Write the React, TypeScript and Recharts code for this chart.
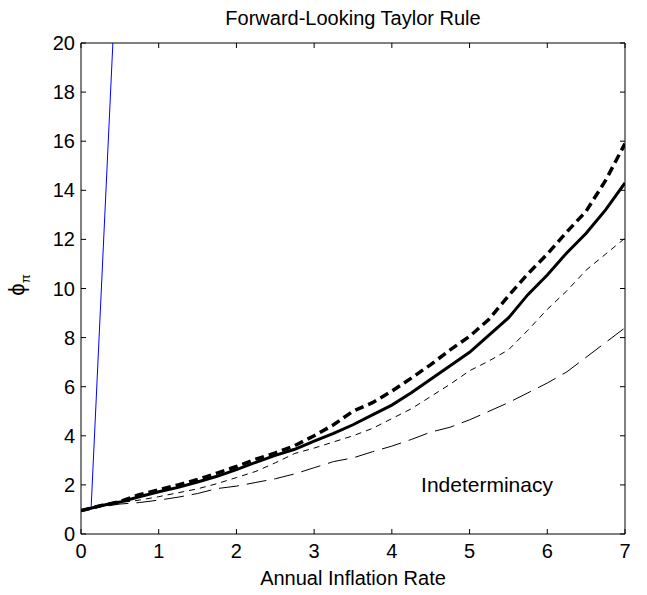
import React from 'react';
import { LineChart, Line, XAxis, YAxis, Label } from 'recharts';

// annual inflation rate grid (x) and the four phi_pi boundaries
const inflation = [0, 0.25, 0.5, 0.75, 1, 1.25, 1.5, 1.75, 2, 2.25, 2.5, 2.75, 3, 3.25, 3.5, 3.75, 4, 4.25, 4.5, 4.75, 5, 5.25, 5.5, 5.75, 6, 6.25, 6.5, 6.75, 7];
const thickSolid = [0.95, 1.15, 1.3, 1.52, 1.72, 1.9, 2.12, 2.35, 2.62, 2.92, 3.2, 3.45, 3.78, 4.1, 4.45, 4.85, 5.25, 5.75, 6.3, 6.85, 7.4, 8.1, 8.8, 9.75, 10.55, 11.45, 12.25, 13.2, 14.3];
const thickDashed = [0.95, 1.15, 1.32, 1.6, 1.8, 2.0, 2.22, 2.48, 2.75, 3.05, 3.3, 3.6, 4.0, 4.45, 5.0, 5.35, 5.82, 6.35, 6.9, 7.5, 8.05, 8.75, 9.7, 10.6, 11.4, 12.3, 13.15, 14.4, 15.9];
const thinDashed = [0.95, 1.12, 1.28, 1.38, 1.52, 1.68, 1.84, 2.05, 2.3, 2.55, 2.9, 3.28, 3.5, 3.75, 4.0, 4.3, 4.7, 5.1, 5.6, 6.1, 6.65, 7.05, 7.5, 8.3, 9.15, 9.9, 10.75, 11.4, 12.05];
const longDashed = [0.95, 1.1, 1.22, 1.28, 1.38, 1.5, 1.65, 1.85, 1.95, 2.1, 2.25, 2.45, 2.7, 2.95, 3.1, 3.35, 3.58, 3.85, 4.15, 4.35, 4.65, 5.0, 5.35, 5.75, 6.15, 6.6, 7.2, 7.8, 8.4];

// steep blue boundary near zero inflation
const boundaryX = [0.13, 0.41];
const boundaryY = [1.05, 20];

const xTicks = [0, 1, 2, 3, 4, 5, 6, 7];
const yTicks = [0, 2, 4, 6, 8, 10, 12, 14, 16, 18, 20];

const toPoints = (xs: number[], ys: number[]) => xs.map((x, i) => ({ x, y: ys[i] }));

const FONT = '"Liberation Sans", Arial, Helvetica, sans-serif';
const FS = 20;

const BottomTick = ({ x, y, payload }: any) => (
  <g>
    <line x1={x} x2={x} y1={y} y2={y - 5} stroke="#000" />
    <text x={x} y={y + 24} textAnchor="middle" fontSize={FS} fontFamily={FONT} fill="#000">
      {payload.value}
    </text>
  </g>
);

const TopTick = ({ x, y }: any) => <line x1={x} x2={x} y1={y} y2={y + 5} stroke="#000" />;

const LeftTick = ({ x, y, payload }: any) => (
  <g>
    <line x1={x} x2={x + 5} y1={y} y2={y} stroke="#000" />
    <text x={x - 6} y={y + 7} textAnchor="end" fontSize={FS} fontFamily={FONT} fill="#000">
      {payload.value}
    </text>
  </g>
);

const RightTick = ({ x, y }: any) => <line x1={x} x2={x - 5} y1={y} y2={y} stroke="#000" />;

export default function App() {
  return (
    <div style={{ position: 'absolute', left: 0, top: 0, background: '#fff', fontFamily: FONT }}>
      <LineChart width={647} height={595} margin={{ top: 42, right: 21, bottom: 0, left: 0 }}>
        <text x={353} y={25} textAnchor="middle" fontSize={FS} fontFamily={FONT} fill="#000">
          Forward-Looking Taylor Rule
        </text>
        <XAxis
          xAxisId="b"
          type="number"
          dataKey="x"
          domain={[0, 7]}
          ticks={xTicks}
          height={61}
          tickSize={0}
          tickMargin={0}
          tick={<BottomTick />}
          axisLine={{ stroke: '#000' }}
          allowDataOverflow
        >
          <Label
            content={() => (
              <text x={353} y={585} textAnchor="middle" fontSize={FS} fontFamily={FONT} fill="#000">
                Annual Inflation Rate
              </text>
            )}
          />
        </XAxis>
        <XAxis
          xAxisId="t"
          orientation="top"
          type="number"
          dataKey="x"
          domain={[0, 7]}
          ticks={xTicks}
          height={1}
          tickSize={0}
          tickMargin={0}
          tick={<TopTick />}
          axisLine={{ stroke: '#000' }}
          allowDataOverflow
        />
        <YAxis
          yAxisId="l"
          type="number"
          domain={[0, 20]}
          ticks={yTicks}
          width={81}
          tickSize={0}
          tickMargin={0}
          tick={<LeftTick />}
          axisLine={{ stroke: '#000' }}
          allowDataOverflow
        >
          <Label
            content={() => (
              <text x={24} y={285} transform="rotate(-90 24 285)" textAnchor="middle" fontSize={FS + 2} fontFamily={FONT} fill="#000">
                ϕ<tspan dy={6} fontSize={13}>π</tspan>
              </text>
            )}
          />
        </YAxis>
        <YAxis
          yAxisId="r"
          orientation="right"
          type="number"
          domain={[0, 20]}
          ticks={yTicks}
          width={1}
          tickSize={0}
          tickMargin={0}
          tick={<RightTick />}
          axisLine={{ stroke: '#000' }}
          allowDataOverflow
        />
        {/* invisible copy tied to the mirrored top/right axes so they render the box */}
        <Line xAxisId="t" yAxisId="r" data={toPoints(inflation, thickSolid)} dataKey="y" stroke="none" dot={false} legendType="none" isAnimationActive={false} />
        <Line xAxisId="b" yAxisId="l" data={toPoints(boundaryX, boundaryY)} dataKey="y" stroke="#0000ff" strokeWidth={1} dot={false} isAnimationActive={false} />
        <Line xAxisId="b" yAxisId="l" data={toPoints(inflation, longDashed)} dataKey="y" stroke="#000" strokeWidth={1} strokeDasharray="20 8" dot={false} isAnimationActive={false} />
        <Line xAxisId="b" yAxisId="l" data={toPoints(inflation, thinDashed)} dataKey="y" stroke="#000" strokeWidth={1} strokeDasharray="6 5" dot={false} isAnimationActive={false} />
        <Line xAxisId="b" yAxisId="l" data={toPoints(inflation, thickSolid)} dataKey="y" stroke="#000" strokeWidth={3} dot={false} isAnimationActive={false} />
        <Line xAxisId="b" yAxisId="l" data={toPoints(inflation, thickDashed)} dataKey="y" stroke="#000" strokeWidth={3.5} strokeDasharray="9 5" dot={false} isAnimationActive={false} />
        <text x={487} y={492} textAnchor="middle" fontSize={FS + 1} fontFamily={FONT} fill="#000">
          Indeterminacy
        </text>
      </LineChart>
    </div>
  );
}
